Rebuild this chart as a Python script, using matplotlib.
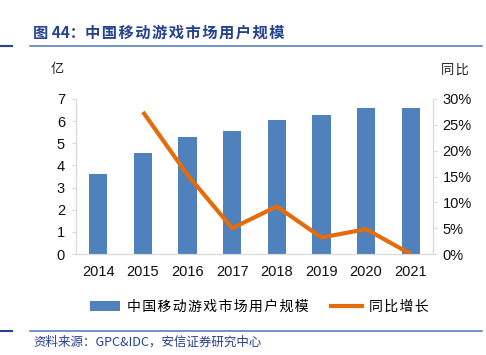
import matplotlib
matplotlib.use("Agg")
import matplotlib.pyplot as plt
from matplotlib.lines import Line2D
from matplotlib.patches import Patch
from matplotlib.ticker import FuncFormatter

plt.rcParams["font.family"] = ["Liberation Sans", "Noto Sans CJK SC", "DejaVu Sans"]

YEARS = ["2014", "2015", "2016", "2017", "2018", "2019", "2020", "2021"]
USERS = [3.60, 4.58, 5.28, 5.56, 6.04, 6.26, 6.59, 6.59]
GROWTH = [None, 0.275, 0.153, 0.050, 0.092, 0.032, 0.048, 0.000]

BAR_LABEL = "中国移动游戏市场用户规模"
LINE_LABEL = "同比增长"
TITLE = "图 44：中国移动游戏市场用户规模"
SOURCE = "资料来源：GPC&IDC，安信证券研究中心"

BLUE = "#4F81BD"
ORANGE = "#E46C0A"
DARK_BLUE = "#25418F"
CJK = ["Noto Sans CJK SC", "DejaVu Sans"]


def spaced(s):
    # 参考图的中文字距较宽，用 hair space 模拟
    return "\u200a".join(s)


fig = plt.figure(figsize=(4.86, 3.55), dpi=100)
W, H = 486, 355
ax = fig.add_axes([76 / W, 1 - 254 / H, (433 - 76) / W, (254 - 99) / H])

x = list(range(len(YEARS)))
ax.bar(x, USERS, width=0.41, color=BLUE, zorder=2)
ax.set_xlim(-0.5, len(YEARS) - 0.5)
ax.set_ylim(0, 7)
ax.set_yticks(range(0, 8))
ax.set_xticks(x)
ax.set_xticklabels(YEARS)

ax2 = ax.twinx()
gx = [i for i, g in zip(x, GROWTH) if g is not None]
gy = [g for g in GROWTH if g is not None]
ax2.plot(gx, gy, color=ORANGE, linewidth=3, solid_capstyle="butt", zorder=3)
ax2.set_ylim(0, 0.30)
ax2.set_yticks([0, 0.05, 0.10, 0.15, 0.20, 0.25, 0.30])
ax2.yaxis.set_major_formatter(FuncFormatter(lambda v, _: f"{v * 100:.0f}%"))

for a in (ax, ax2):
    a.spines["top"].set_visible(False)
    for s in ("left", "right", "bottom"):
        a.spines[s].set_color("#D9D9D9")
    a.tick_params(axis="both", labelsize=10.5, colors="#D9D9D9",
                  labelcolor="#111111", length=3)
ax.tick_params(axis="x", length=0, pad=8)
ax.tick_params(axis="y", pad=5)
ax2.tick_params(axis="y", pad=4)

fig.text(57 / W, 1 - 70 / H, "亿", family=CJK, fontsize=9.5, ha="center", va="center", color="#222222")
fig.text(455 / W, 1 - 70 / H, spaced("同比"), family=CJK, fontsize=9.5, ha="center", va="center", color="#222222")

# title and rules
fig.text(33 / W, 1 - 33 / H, "图 44：" + spaced(TITLE[5:]), family=CJK, fontsize=11,
         fontweight="bold", color=DARK_BLUE, ha="left", va="center")
for yy in (46, 331):
    fig.add_artist(Line2D([30 / W, 482 / W], [1 - yy / H] * 2, color="#5B7FC2", linewidth=1.2))
    fig.add_artist(Line2D([0, 12 / W], [1 - yy / H] * 2, color=DARK_BLUE, linewidth=1.5))
fig.text(33 / W, 1 - 342 / H, SOURCE, family=CJK, fontsize=9, style="italic",
         color=DARK_BLUE, ha="left", va="center")

handles = [Patch(facecolor=BLUE, label=spaced(BAR_LABEL)),
           Line2D([0], [0], color=ORANGE, linewidth=3, label=spaced(LINE_LABEL))]
fig.legend(handles=handles, loc="center", bbox_to_anchor=(259 / W, 1 - 307 / H),
           ncol=2, frameon=False, prop={"family": CJK, "size": 10},
           handlelength=2.2, columnspacing=1.6, handletextpad=0.5)

fig.savefig("out.png", dpi=100)
